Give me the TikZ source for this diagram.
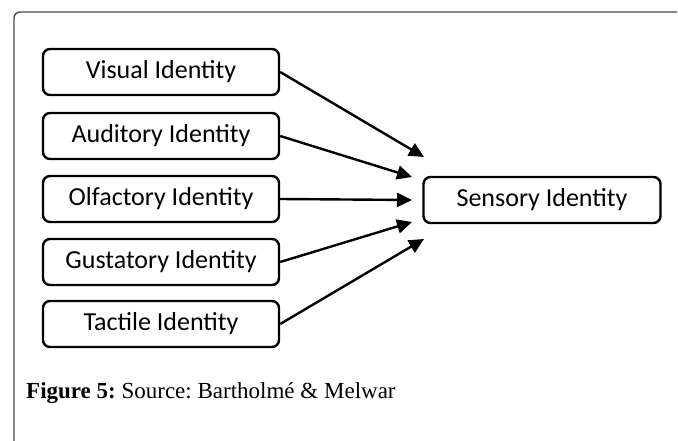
\documentclass[tikz,border=0pt]{standalone}
\usepackage{fontspec}
\usepackage{tikz}
\usetikzlibrary{arrows.meta}
\newfontfamily\boxfont{Carlito}
\newfontfamily\capfont{Liberation Serif}
\frenchspacing

\tikzset{
  idbox/.style={draw, line width=2.4pt, rounded corners=7pt,
    minimum width=236pt, minimum height=46pt, inner sep=0pt,
    font=\boxfont\fontsize{26}{28}\selectfont},
  idarrow/.style={line width=2.4pt,
    -{Triangle[length=15pt,width=14pt]}}
}

\begin{document}
\begin{tikzpicture}[x=1pt, y=-1pt]
    \useasboundingbox (0, 0) rectangle (678, 441);
    % frame
    \draw[line width=1.4pt, black!70, rounded corners=6pt]
      (14, 445) -- (14, 12) -- (677, 12);

    % identities
    \node[idbox] (visual)    at (161, 72)  {Visual Identity};
    \node[idbox] (auditory)  at (161, 136) {Auditory Identity};
    \node[idbox] (olfactory) at (161, 199) {Olfactory Identity};
    \node[idbox] (gustatory) at (161, 262) {Gustatory Identity};
    \node[idbox] (tactile)   at (161, 324) {Tactile Identity};
    \node[idbox, minimum width=237pt] (sensory) at (542, 200) {Sensory Identity};

    % arrow tips
    \coordinate (visualend)    at (424, 157);
    \coordinate (auditoryend)  at (412, 177);
    \coordinate (olfactoryend) at (412, 200);
    \coordinate (gustatoryend) at (412, 222);
    \coordinate (tactileend)   at (424, 239);

    \draw[idarrow] (visual.east)    -- (visualend);
    \draw[idarrow] (auditory.east)  -- (auditoryend);
    \draw[idarrow] (olfactory.east) -- (olfactoryend);
    \draw[idarrow] (gustatory.east) -- (gustatoryend);
    \draw[idarrow] (tactile.east)   -- (tactileend);

    \node[anchor=base west, inner sep=0pt,
      font=\capfont\fontsize{23}{26}\selectfont] (caption) at (26, 398)
      {\textbf{Figure 5:} Source: Bartholmé \& Melwar};
  \end{tikzpicture}
\end{document}
